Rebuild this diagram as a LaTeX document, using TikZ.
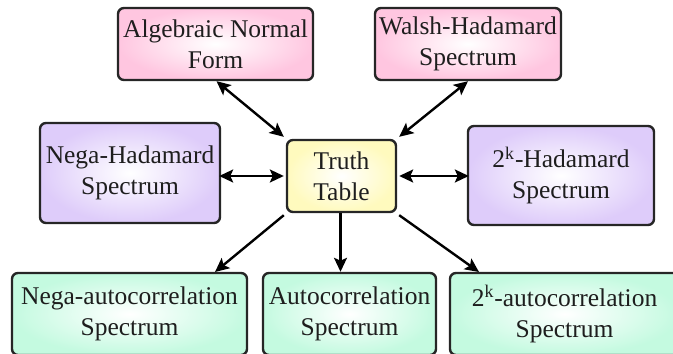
\documentclass[tikz,border=0pt]{standalone}
\usepackage{fontspec}
\setmainfont{Liberation Serif}
\usetikzlibrary{arrows.meta}
\definecolor{pinkc}{RGB}{255,198,224}
\definecolor{purpc}{RGB}{222,204,250}
\definecolor{yelc}{RGB}{255,250,190}
\definecolor{grnc}{RGB}{196,250,224}
\definecolor{edgec}{RGB}{38,38,38}
\definecolor{txtc}{RGB}{30,30,30}
\tikzset{
  box/.style={draw=edgec, line width=1.2pt, rounded corners=3pt, align=center,
    text=txtc, inner sep=0pt, font=\fontsize{12.75}{15.5}\selectfont},
  pinkbox/.style={box, inner color=white, outer color=pinkc},
  purpbox/.style={box, inner color=white, outer color=purpc},
  yelbox/.style={box, inner color=white, outer color=yelc},
  grnbox/.style={box, inner color=white, outer color=grnc},
  conn/.style={draw=black, line width=1.2pt},
  tip/.style={},
  dbl/.style={conn, {Stealth[length=7pt,width=6.5pt,inset=1.5pt]}-{Stealth[length=7pt,width=6.5pt,inset=1.5pt]}},
  sgl/.style={conn, -{Stealth[length=7pt,width=6.5pt,inset=1.5pt]}}
}
\begin{document}
\begin{tikzpicture}[x=0.5pt,y=-0.5pt]
\useasboundingbox (0,0) rectangle (673,353);
\begin{scope}
\clip (0,0) rectangle (673,353);
\node[pinkbox, minimum width=97.5pt, minimum height=36pt] (anf) at (215.5,44) {Algebraic Normal\\Form};
\node[pinkbox, minimum width=93pt, minimum height=36pt] (wh) at (468,44) {Walsh-Hadamard\\Spectrum};
\node[purpbox, minimum width=90pt, minimum height=50pt] (nh) at (130,173) {Nega-Hadamard\\Spectrum};
\node[yelbox, minimum width=54.5pt, minimum height=36pt] (tt) at (341.5,176) {Truth\\Table};
\node[purpbox, minimum width=93pt, minimum height=49.5pt] (kh) at (561,175.5) {2\textsuperscript{k}-Hadamard\\Spectrum};
\node[grnbox, minimum width=117.5pt, minimum height=41pt] (nac) at (129.5,314) {Nega-autocorrelation\\Spectrum};
\node[grnbox, minimum width=86.5pt, minimum height=41pt] (ac) at (349.5,314) {Autocorrelation\\Spectrum};
\node[grnbox, minimum width=114.5pt, minimum height=41pt] (kac) at (564.5,314) {2\textsuperscript{k}-autocorrelation\\Spectrum};
\coordinate (nacin) at (215,272);
\coordinate (kacin) at (479,272);
\draw[dbl] ([xshift=0.5pt]anf.south) -- ([xshift=-1pt,yshift=1pt]tt.north west);
\draw[dbl] (wh.south) -- ([xshift=1pt,yshift=1pt]tt.north east);
\draw[dbl] ([xshift=-1pt]tt.west) -- ([xshift=-1pt]tt.west -| nh.east);
\draw[dbl] ([xshift=1pt]tt.east) -- ([xshift=1pt]tt.east -| kh.west);
\draw[sgl] ([xshift=-1pt,yshift=-1pt]tt.south west) -- (nacin);
\draw[sgl] ([xshift=-0.5pt]tt.south) -- ([xshift=-0.5pt]tt.south |- ac.north);
\draw[sgl] ([xshift=1pt,yshift=-1pt]tt.south east) -- (kacin);
\end{scope}
\end{tikzpicture}
\end{document}
